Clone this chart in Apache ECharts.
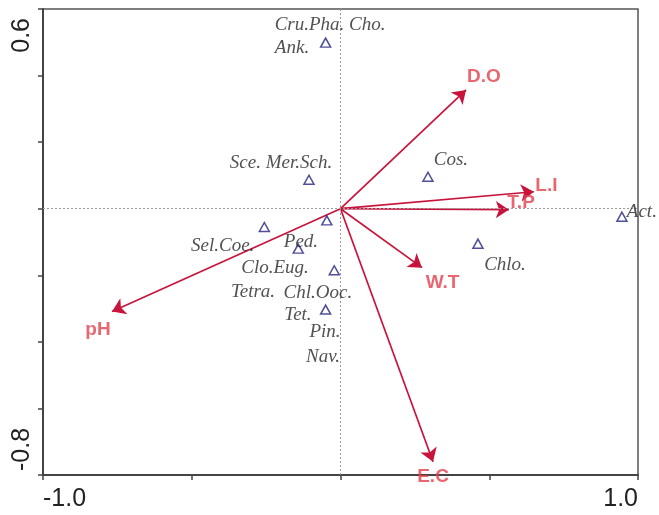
<!DOCTYPE html>
<html><head><meta charset="utf-8">
<script src="https://cdn.jsdelivr.net/npm/echarts@6/dist/echarts.min.js"></script>
<style>html,body{margin:0;padding:0;background:#fff}#c{width:659px;height:515px}</style>
</head><body><div id="c"></div>
<script>
// Species scores (triangles)
const speciesX = [-0.050, -0.106, 0.294, 0.946, 0.462, -0.256, -0.046, -0.142, -0.021, -0.050];
const speciesY = [0.499, 0.087, 0.096, -0.024, -0.105, -0.055, -0.035, -0.120, -0.185, -0.303];
// Species labels and their positions
const speciesNames = ['Cru.Pha. Cho.', 'Ank.', 'Sce. Mer.Sch.', 'Cos.', 'Act.', 'Chlo.', 'Sel.Coe.', 'Ped.', 'Clo.Eug.', 'Tetra.', 'Chl.Ooc.', 'Tet.', 'Pin.', 'Nav.'];
const speciesLabelX = [-0.035, -0.163, -0.200, 0.371, 1.013, 0.553, -0.396, -0.133, -0.220, -0.294, -0.076, -0.143, -0.052, -0.059];
const speciesLabelY = [0.553, 0.484, 0.138, 0.147, -0.009, -0.168, -0.111, -0.099, -0.177, -0.249, -0.252, -0.318, -0.369, -0.445];
// Environmental vectors
const envNames = ['D.O', 'L.I', 'T.P', 'W.T', 'E.C', 'pH'];
const envX = [0.422, 0.650, 0.566, 0.274, 0.311, -0.768];
const envY = [0.357, 0.051, -0.003, -0.177, -0.760, -0.309];
const envLabelX = [0.482, 0.692, 0.607, 0.343, 0.311, -0.815];
const envLabelY = [0.396, 0.069, 0.018, -0.222, -0.805, -0.363];
// Axis tick labels shown
const xTickLabels = ['-1.0', '1.0'];
const yTickLabels = ['0.6', '-0.8'];

const chart = echarts.init(document.getElementById('c'), null, {renderer: 'canvas'});
const fmt = v => { const s = v.toFixed(1); return (xTickLabels.includes(s) ? s : ''); };
const fmtY = v => { const s = v.toFixed(1); return (yTickLabels.includes(s) ? s : ''); };

chart.setOption({
  animation: false,
  grid: {left: 43, right: 21, top: 9, bottom: 40, show: true, borderColor: '#555', borderWidth: 1.5, backgroundColor: '#fff'},
  xAxis: {
    type: 'value', min: -1, max: 1, interval: 0.5,
    axisLine: {show: true, onZero: false, lineStyle: {color: '#444', width: 2}},
    axisTick: {show: true, length: 5, lineStyle: {color: '#444', width: 1.5}},
    splitLine: {show: false},
    axisLabel: {formatter: fmt, fontFamily: 'Liberation Sans, Arial', fontSize: 25, color: '#222', margin: 12,
      alignMinLabel: 'left', alignMaxLabel: 'right'}
  },
  yAxis: {
    type: 'value', min: -0.8, max: 0.6, interval: 0.2,
    axisLine: {show: true, onZero: false, lineStyle: {color: '#444', width: 2}},
    axisTick: {show: true, length: 5, lineStyle: {color: '#444', width: 1.5}},
    splitLine: {show: false},
    axisLabel: {formatter: fmtY, rotate: 90, fontFamily: 'Liberation Sans, Arial', fontSize: 25, color: '#222', margin: 8,
      padding: [0, 9, 0, 4],
      alignMinLabel: 'left', alignMaxLabel: 'right'}
  },
  series: [
    {
      type: 'lines', coordinateSystem: 'cartesian2d', z: 3,
      symbol: ['none', 'arrow'], symbolSize: [0, 13],
      lineStyle: {color: '#c8143c', width: 1.7, opacity: 1, curveness: 0},
      data: envX.map((x, i) => ({coords: [[0, 0], [x, envY[i]]]})),
      silent: true
    },
    {
      type: 'scatter', z: 4, clip: false,
      symbol: 'triangle', symbolSize: [10, 9],
      itemStyle: {color: 'rgba(255,255,255,0)', borderColor: '#23237e', borderWidth: 1.5},
      data: speciesX.map((x, i) => [x, speciesY[i]]),
      silent: true,
      markLine: {
        silent: true, symbol: 'none', label: {show: false},
        lineStyle: {type: [2, 2], color: '#999', width: 1},
        data: [{xAxis: 0}, {yAxis: 0}]
      }
    },
    {
      type: 'scatter', z: 5, clip: false, symbolSize: 1,
      itemStyle: {color: 'rgba(0,0,0,0)'},
      data: speciesNames.map((n, i) => [speciesLabelX[i], speciesLabelY[i], n]),
      label: {show: true, position: 'inside', formatter: p => p.data[2],
        fontFamily: 'Liberation Serif, Times New Roman, serif', fontStyle: 'italic', fontSize: 19, color: '#262626'},
      silent: true
    },
    {
      type: 'scatter', z: 6, clip: false, symbolSize: 1,
      itemStyle: {color: 'rgba(0,0,0,0)'},
      data: envNames.map((n, i) => [envLabelX[i], envLabelY[i], n]),
      label: {show: true, position: 'inside', formatter: p => p.data[2],
        fontFamily: 'Liberation Sans, Arial, sans-serif', fontWeight: 'bold', fontSize: 19, color: '#e3404c'},
      silent: true
    }
  ]
});
</script></body></html>
